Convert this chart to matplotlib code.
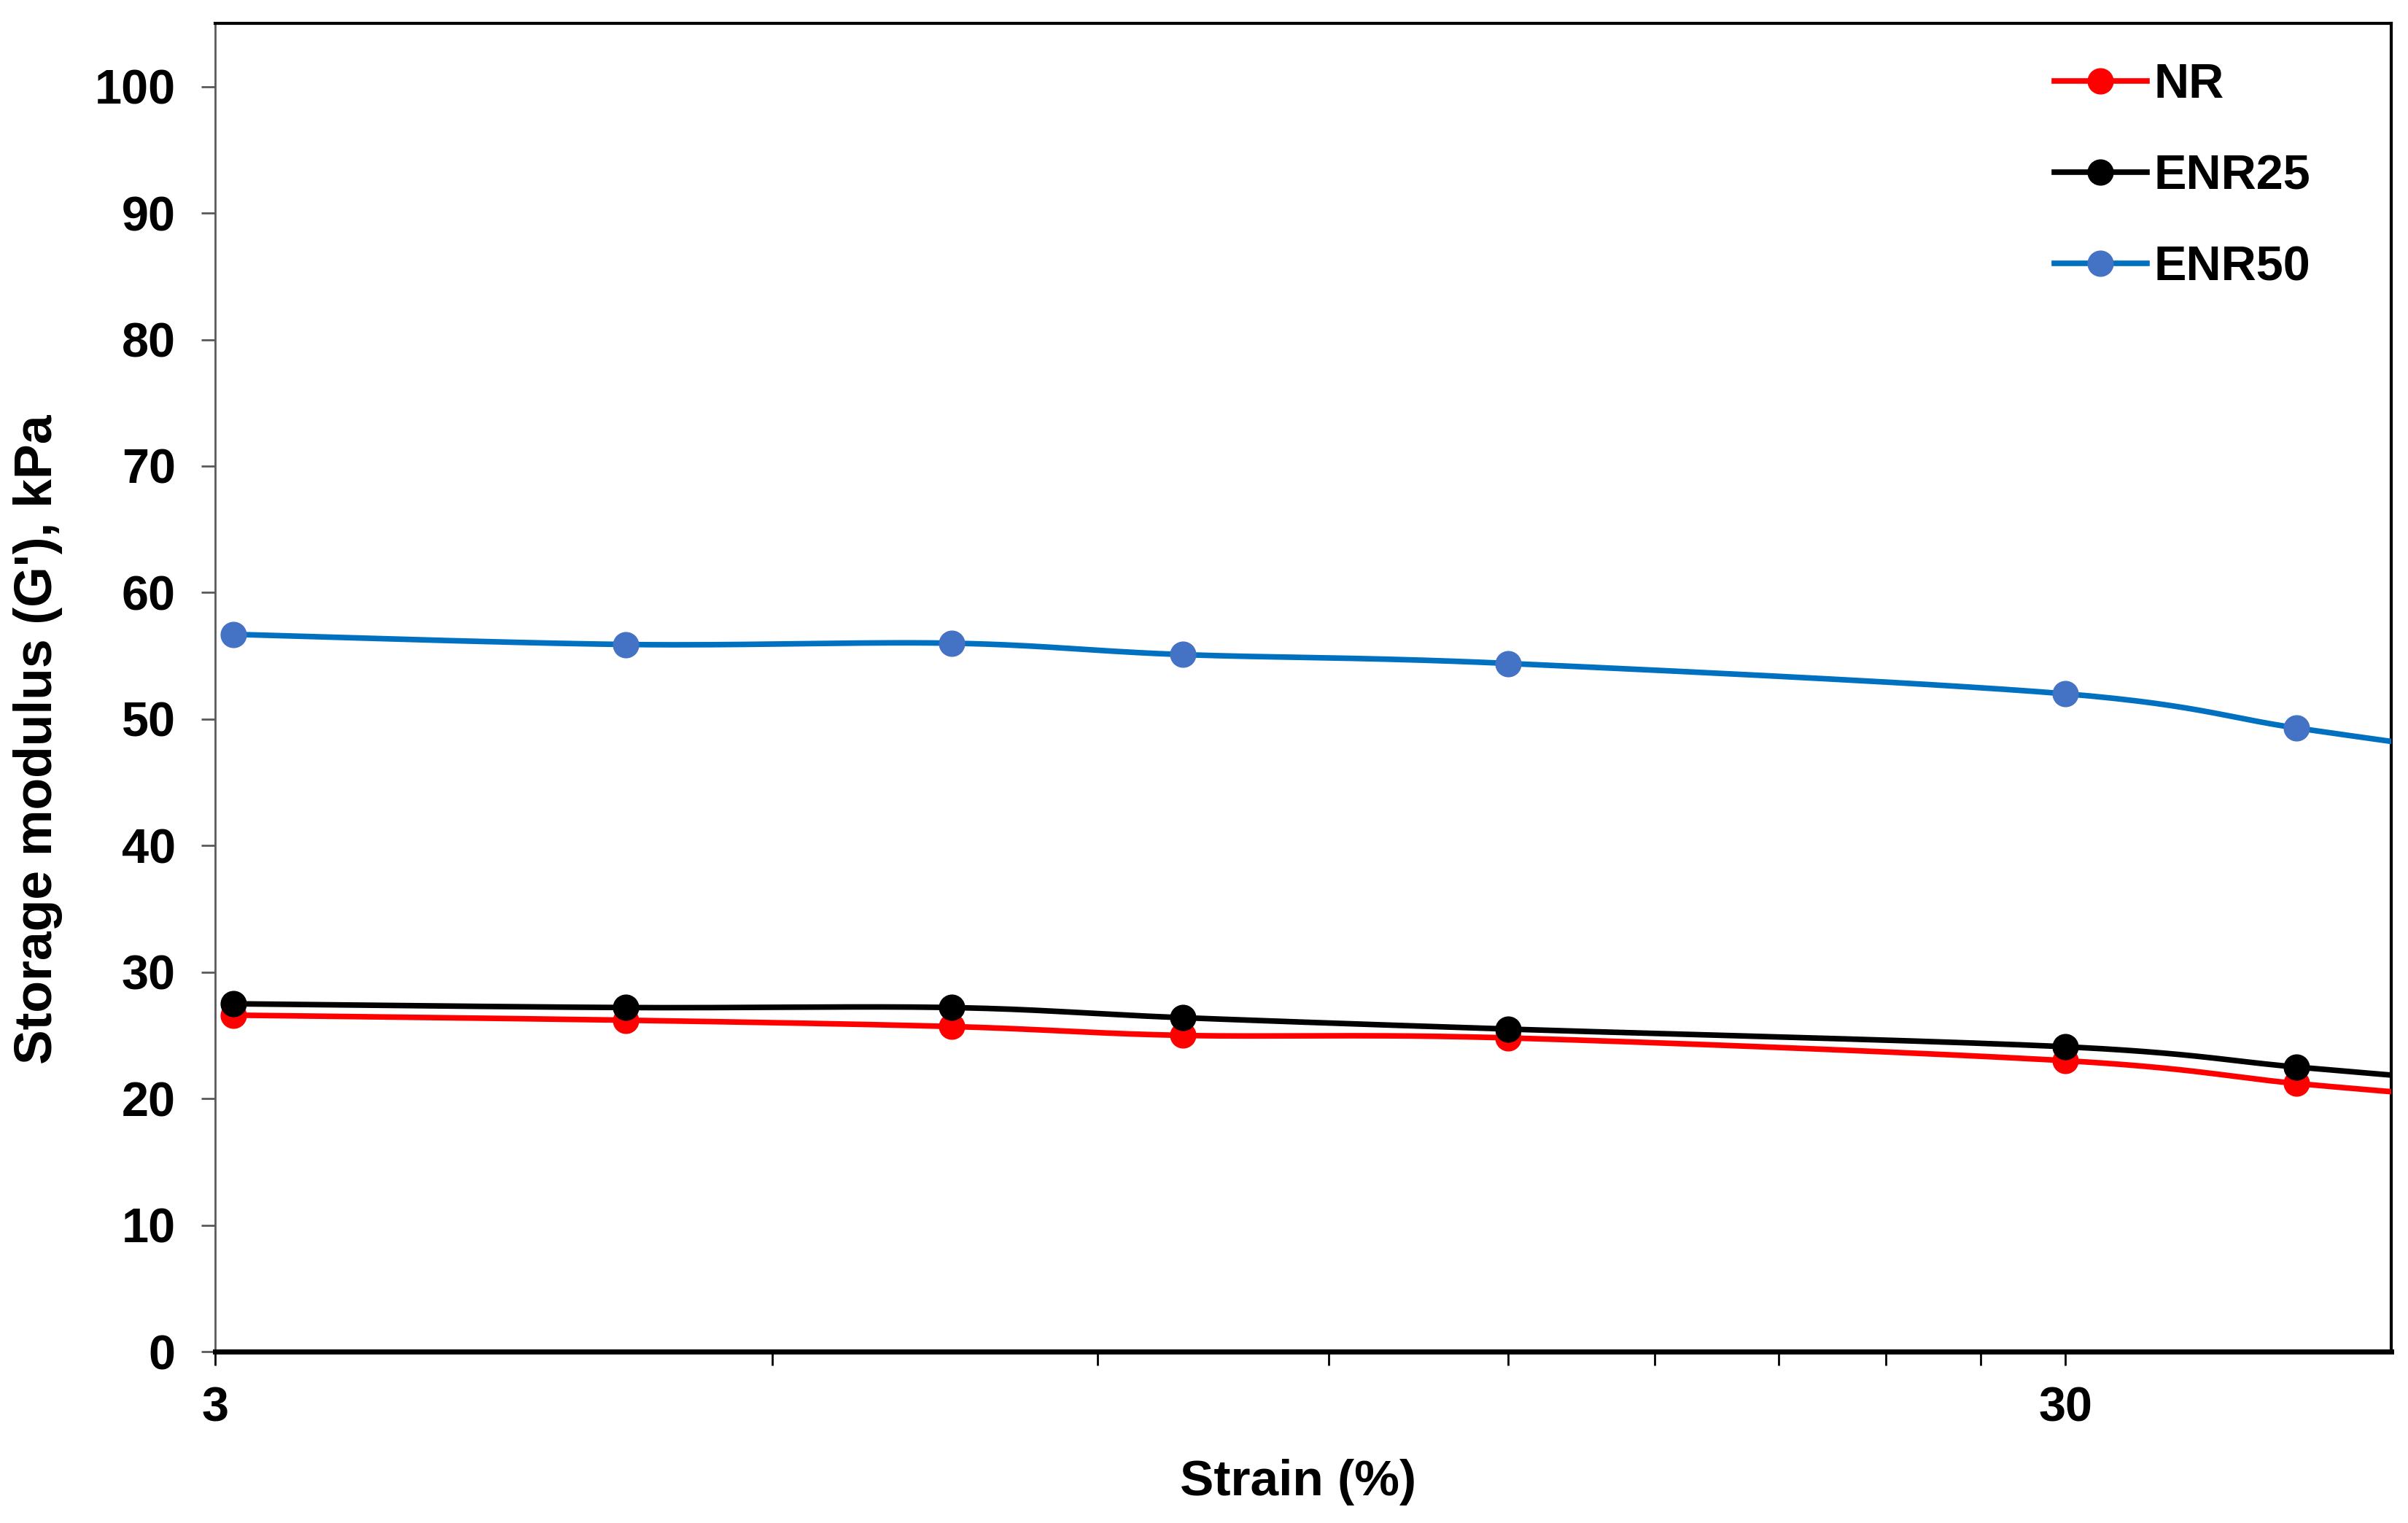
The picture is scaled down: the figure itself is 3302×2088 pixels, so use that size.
import numpy as np
import matplotlib
matplotlib.use('Agg')
import matplotlib.pyplot as plt

# datos
strain = [3.07, 5.0, 7.5, 10.0, 15.0, 30.0, 40.0, 50.0]
g_nr = [26.6, 26.2, 25.7, 25.0, 24.8, 23.0, 21.2, 20.0]
g_enr25 = [27.5, 27.2, 27.2, 26.4, 25.5, 24.1, 22.5, 21.3]
g_enr50 = [56.7, 55.9, 56.0, 55.1, 54.4, 52.0, 49.3, 47.3]
labels = ['NR', 'ENR25', 'ENR50']
x_ticks = [3, 30]
x_minor = [6, 9, 12, 15, 18, 21, 24, 27]
y_ticks = list(range(0, 101, 10))

plt.rcParams['font.family'] = ['Liberation Sans', 'DejaVu Sans']
plt.rcParams['font.weight'] = 'bold'


def smooth(x, y, n=30):
    # curva suavizada tipo Excel (Catmull-Rom) en log(x)
    u = np.log10(np.asarray(x, float))
    v = np.asarray(y, float)
    pu = np.concatenate([[u[0]], u, [u[-1]]])
    pv = np.concatenate([[v[0]], v, [v[-1]]])
    t = np.linspace(0, 1, n)
    xs, ys = [], []
    for i in range(1, len(pu) - 2):
        for p, out in ((pu, xs), (pv, ys)):
            p0, p1, p2, p3 = p[i - 1], p[i], p[i + 1], p[i + 2]
            out.extend(0.5 * ((2 * p1) + (-p0 + p2) * t
                              + (2 * p0 - 5 * p1 + 4 * p2 - p3) * t ** 2
                              + (-p0 + 3 * p1 - 3 * p2 + p3) * t ** 3))
    return 10 ** np.array(xs), np.array(ys)


fig = plt.figure(figsize=(33.02, 20.88), dpi=100)
ax = fig.add_axes([0.0893, 0.1125, 0.9037, 0.8722])

series = [(g_nr, '#FF0000', '#FF0000'),
          (g_enr25, '#000000', '#000000'),
          (g_enr50, '#0070C0', '#4472C4')]
for (vals, lc, mc), lab in zip(series, labels):
    sx, sy = smooth(strain, vals)
    ax.plot(sx, sy, color=lc, lw=5.5, zorder=3, clip_on=True)
    ax.plot(strain, vals, ls='none', marker='o', ms=25, color=mc, zorder=4)
    ax.plot([], [], color=lc, lw=5.5, marker='o', ms=25, mfc=mc, mec=mc, label=lab)

ax.set_xscale('log')
ax.set_xlim(3, 45)
ax.set_ylim(0, 105)
ax.set_xticks(x_ticks)
ax.set_xticklabels([str(v) for v in x_ticks])
ax.set_xticks(x_minor, minor=True)
ax.xaxis.set_minor_formatter(matplotlib.ticker.NullFormatter())
ax.set_yticks(y_ticks)
ax.set_yticklabels([str(v) for v in y_ticks])

ax.tick_params(axis='both', which='both', direction='out', length=14, width=2)
ax.tick_params(axis='x', which='both', colors='#000000', labelsize=48, pad=20)
ax.tick_params(axis='y', colors='#595959', labelcolor='#000000', labelsize=48, pad=25)

for s in ['top', 'right']:
    ax.spines[s].set_linewidth(3)
    ax.spines[s].set_color('black')
ax.spines['bottom'].set_linewidth(5)
ax.spines['bottom'].set_color('black')
ax.spines['left'].set_linewidth(2)
ax.spines['left'].set_color('#595959')

fig.text(0.539, 0.0182, 'Strain (%)', ha='center', va='baseline',
         fontsize=50, fontweight='bold')
fig.text(0.0158, 0.5144, "Storage modulus (G'), kPa", ha='center', va='center',
         rotation=90, fontsize=51.5, fontweight='bold')

ax.legend(loc='upper left', bbox_to_anchor=(2817 / 3302, 1 - 86 / 2088),
          bbox_transform=fig.transFigure, frameon=False, fontsize=48,
          handlelength=1.9, handletextpad=0.15, labelspacing=0.95,
          borderpad=0, borderaxespad=0, numpoints=1)

fig.savefig('out.png', dpi=100)
